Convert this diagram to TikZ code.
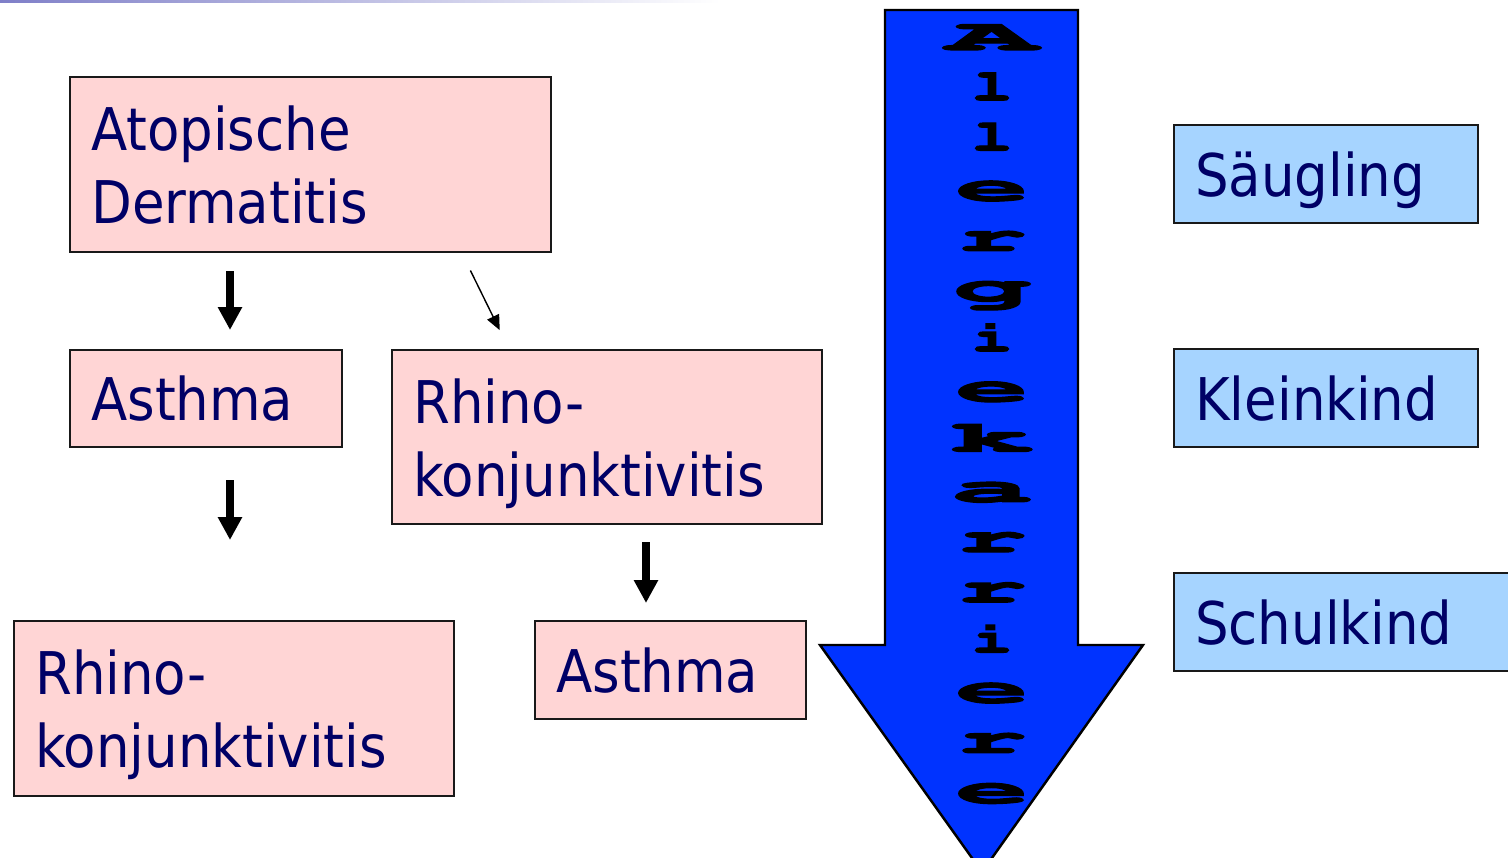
\documentclass[tikz,border=0pt]{standalone}
\usepackage{fontspec}
\setmainfont{DejaVu Sans Condensed}
\newcommand{\wideserif}{\fontencoding{OT1}\fontfamily{pcr}\fontseries{b}\selectfont}
\newcommand{\heavy}[1]{\special{pdf:literal direct 2 Tr 0.7 w}#1\special{pdf:literal direct 0 Tr}}
\usepackage{tikz}
\usetikzlibrary{arrows.meta,positioning,calc}
\definecolor{boxpink}{HTML}{FFD5D5}
\definecolor{boxblue}{HTML}{A6D4FF}
\definecolor{textnavy}{HTML}{000066}
\definecolor{arrowblue}{HTML}{0033FF}
\definecolor{rulepurple}{HTML}{7F7FC8}

\begin{document}
\begin{tikzpicture}[x=0.02cm,y=-0.02cm,
  box/.style={draw=black!90,line width=1.4pt,anchor=north west,align=left,inner xsep=0.42cm,inner ysep=0pt,text=textnavy,font=\fontsize{33.5}{41.5}\selectfont},
  pinkbox/.style={box,fill=boxpink},
  bluebox/.style={box,fill=boxblue},
  twoline/.style={text depth=41.5pt},
  fat/.style={line width=4pt,-{Triangle[width=0.46cm,length=0.46cm]}},
  slim/.style={line width=0.8pt,-{Triangle[width=0.26cm,length=0.3cm]}},
  letter/.style={anchor=base,inner sep=0pt,font=\wideserif\fontsize{25}{25}\selectfont}]
\useasboundingbox (0,0) rectangle (1508,858);
\shade[left color=rulepurple,right color=white] (0,0) rectangle (720,3);
\node[pinkbox,twoline,text width=8.78cm,minimum height=3.5cm] (atop) at (69,76) {Atopische\\Dermatitis};
\node[pinkbox,text width=4.6cm,minimum height=1.94cm] (asthmaA) at (69,349) {Asthma};
\node[pinkbox,twoline,text width=7.76cm,minimum height=3.48cm] (rhinoA) at (391,349) {Rhino-\\konjunktivitis};
\node[pinkbox,twoline,text width=7.96cm,minimum height=3.5cm] (rhinoB) at (13,620) {Rhino-\\konjunktivitis};
\node[pinkbox,text width=4.58cm,minimum height=1.96cm] (asthmaB) at (534,620) {Asthma};
\node[bluebox,text width=5.24cm,minimum height=1.96cm,text depth=0pt] (saeugling) at (1173,124) {Säugling};
\node[bluebox,text width=5.24cm,minimum height=1.96cm] (kleinkind) at (1173,348) {Kleinkind};
\node[bluebox,text width=6.36cm,minimum height=1.96cm] (schulkind) at (1173,572) {Schulkind};
\coordinate (colA) at (230,0);
\coordinate (colB) at (646,0);
\coordinate (diagS) at (462,0);
\coordinate (diagE) at (509,0);
\draw[fat,shorten <=0.36cm,shorten >=0.38cm] (atop.south -| colA) -- (asthmaA.north -| colA);
\draw[slim,shorten <=0.38cm,shorten >=0.42cm] (atop.south -| diagS) -- (rhinoA.north -| diagE);
\draw[fat,shorten <=0.64cm,shorten >=1.6cm] (asthmaA.south -| colA) -- (rhinoB.north -| colA);
\draw[fat,shorten <=0.34cm,shorten >=0.34cm] (rhinoA.south -| colB) -- (asthmaB.north -| colB);
\draw[line width=1.4pt,fill=arrowblue] (885,10) -- (1078,10) -- (1078,645) -- (1143,645) -- (982,872) -- (820,645) -- (885,645) -- cycle;
\foreach \ch/\sx [count=\i from 0] in {A/3.4,l/1.55,l/1.55,e/2.75,r/2.6,g/2.9,i/1.55,e/2.75,k/3.25,a/3.1,r/2.6,r/2.6,i/1.55,e/2.75,r/2.6,e/2.75}
  \node[letter] (letter\i) at (992,50+50.2*\i) {\scalebox{\sx}[1]{\heavy{\ch}}};
\end{tikzpicture}
\end{document}
